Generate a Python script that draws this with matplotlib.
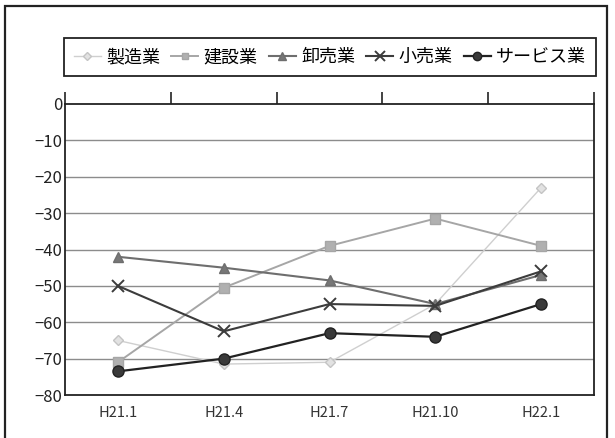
import matplotlib.pyplot as plt
from matplotlib.patches import Rectangle

plt.rcParams['font.family'] = ['Noto Sans CJK JP', 'DejaVu Sans']

# 業況判断DI（業種別）
periods = ['H21.1', 'H21.4', 'H21.7', 'H21.10', 'H22.1']
seizo = [-65, -71.5, -71, -55, -23]
kensetsu = [-71, -50.5, -39, -31.5, -39]
oroshi = [-42, -45, -48.5, -55, -47]
kouri = [-50, -62.5, -55, -55.5, -46]
service = [-73.5, -70, -63, -64, -55]

series = [
    ('製造業', seizo, dict(color='#cfcfcf', marker='D', ms=5.5, mfc='#e2e2e2', mec='#c4c4c4', lw=1.0)),
    ('建設業', kensetsu, dict(color='#a6a6a6', marker='s', ms=6.5, mfc='#b0b0b0', mec='#a6a6a6', lw=1.4)),
    ('卸売業', oroshi, dict(color='#6e6e6e', marker='^', ms=7, mfc='#777777', mec='#6e6e6e', lw=1.5)),
    ('小売業', kouri, dict(color='#3c3c3c', marker='x', ms=9, mew=1.4, lw=1.5)),
    ('サービス業', service, dict(color='#222222', marker='o', ms=8, mfc='#3a3a3a', mec='#222222', lw=1.6)),
]

fig = plt.figure(figsize=(6.15, 4.38), dpi=100)
fig.patches.append(Rectangle((5 / 615, -0.05), 602 / 615, 1.05 - 6 / 438,
                             transform=fig.transFigure, fill=False,
                             edgecolor='#222222', lw=1.6))

ax = fig.add_axes([65 / 615, 1 - 395 / 438, 529 / 615, 291 / 438])
x = list(range(len(periods)))
lines = []
for name, vals, style in series:
    ln, = ax.plot(x, vals, label=name, **style)
    lines.append(ln)

ax.set_xlim(-0.5, len(periods) - 0.5)
ax.set_ylim(-80, 0)
ax.set_yticks(range(-80, 1, 10))
ax.set_yticklabels([str(v).replace('-', '−') for v in range(-80, 1, 10)])
ax.set_xticks(x)
ax.set_xticklabels(periods)
ax.tick_params(axis='y', length=0, labelsize=12, pad=2, labelcolor='#222222')
ax.tick_params(axis='x', which='major', length=0, labelsize=10.5, pad=8, labelcolor='#333333')

# category boundary ticks along the zero line
ax.set_xticks([i - 0.5 for i in range(len(periods) + 1)], minor=True)
ax.tick_params(axis='x', which='minor', top=True, bottom=False, direction='out',
               length=9, width=1.2, color='#222222')

for v in range(-70, 0, 10):
    ax.axhline(v, color='#8c8c8c', lw=1.0, zorder=0)
for s in ax.spines.values():
    s.set_color('#222222')
    s.set_linewidth(1.3)

fig.legend(handles=lines, loc='lower left', ncol=5, mode='expand',
           bbox_to_anchor=(64 / 615, 1 - 76 / 438, 532 / 615, 43 / 438),
           borderaxespad=0, fontsize=13, frameon=True, fancybox=False,
           edgecolor='#222222', framealpha=1, handlelength=1.5,
           handletextpad=0.3, columnspacing=0.6, borderpad=0.55,
           markerscale=0.75)
fig.legends[0].get_frame().set_linewidth(1.3)

fig.savefig('out.png', dpi=100)
